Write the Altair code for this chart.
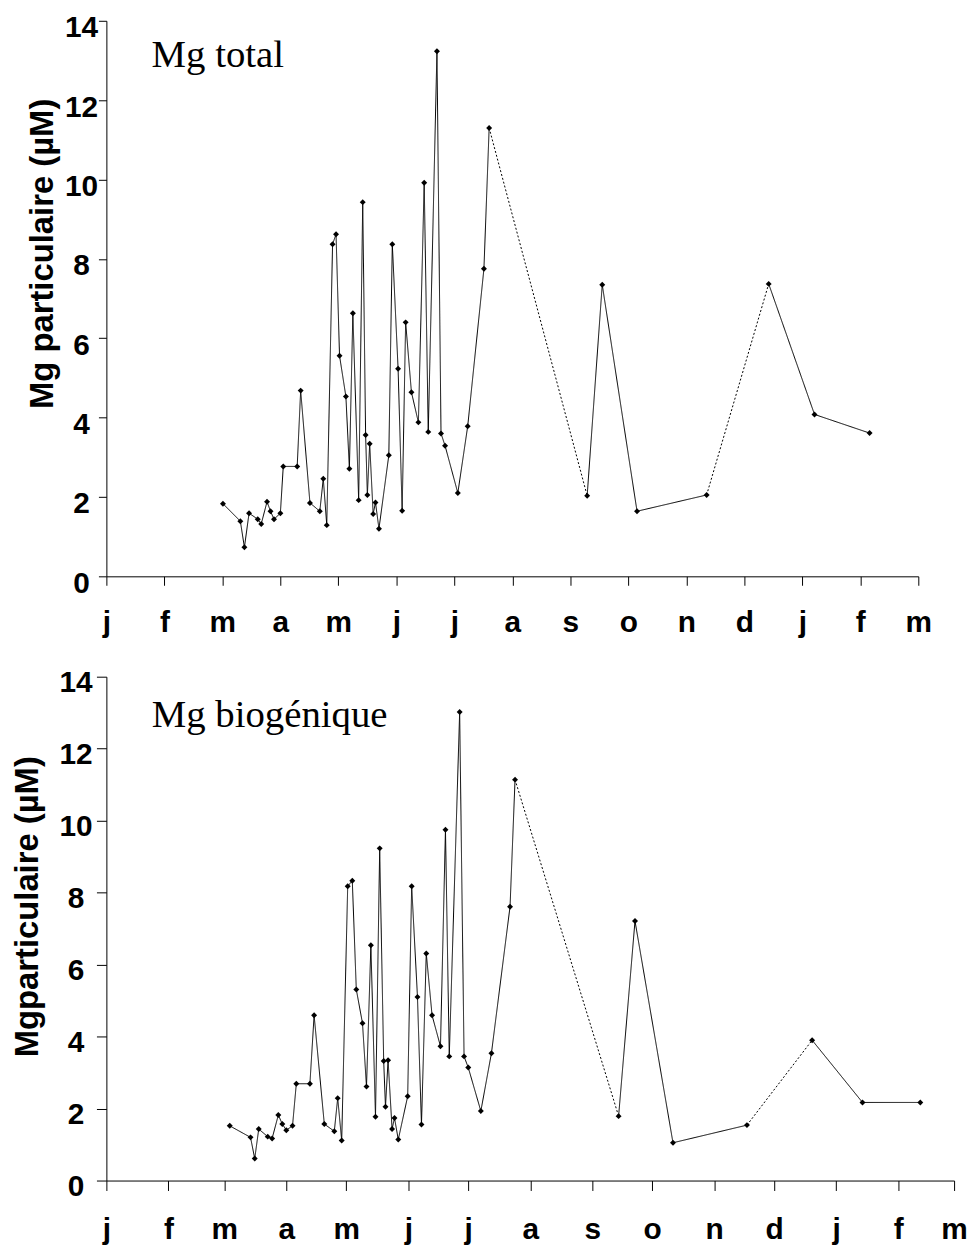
import altair as alt
import pandas as pd

MONTH_LABELS = ["j", "f", "m", "a", "m", "j", "j", "a", "s", "o", "n", "d", "j", "f", "m"]
MONTH_START_DAYS = [0, 31, 59, 90, 120, 151, 181, 212, 243, 273, 304, 334, 365, 396, 424]
Y_TICKS = [0, 2, 4, 6, 8, 10, 12, 14]

# Top panel: x in month units (evenly spaced month axis)
top_x = [2.01, 2.31, 2.38, 2.46, 2.61, 2.67, 2.77, 2.83, 2.89, 3.00, 3.05, 3.29, 3.35,
         3.51, 3.68, 3.74, 3.80, 3.90, 3.96, 4.02, 4.13, 4.19, 4.25, 4.35, 4.42, 4.47,
         4.50, 4.54, 4.60, 4.64, 4.70, 4.87, 4.93, 5.03, 5.10, 5.16, 5.26, 5.38, 5.48,
         5.55, 5.70, 5.77, 5.84, 6.06, 6.23, 6.51, 6.60, 8.29, 8.55, 9.15, 10.35, 11.42,
         12.21, 13.16]
top_y = [1.83, 1.39, 0.73, 1.59, 1.44, 1.32, 1.88, 1.64, 1.44, 1.59, 2.77, 2.77, 4.68,
         1.85, 1.64, 2.46, 1.29, 8.37, 8.62, 5.56, 4.53, 2.71, 6.63, 1.92, 9.43, 3.56,
         2.05, 3.34, 1.57, 1.86, 1.20, 3.05, 8.37, 5.23, 1.65, 6.40, 4.64, 3.88, 9.92,
         3.64, 13.23, 3.60, 3.29, 2.10, 3.78, 7.75, 11.30, 2.03, 7.35, 1.64, 2.05, 7.37,
         4.08, 3.61]

# Bottom panel: x in days since 1 January
bot_x = [61.7, 72.1, 74.2, 76.2, 80.7, 82.9, 86.0, 88.0, 90.0, 93.1, 95.0, 101.8, 103.9,
         109.0, 114.0, 115.7, 117.7, 120.7, 123.0, 125.0, 128.1, 130.1, 132.3, 134.6,
         136.7, 138.7, 139.6, 140.9, 142.9, 144.1, 146.0, 150.7, 152.7, 155.6, 157.6,
         160.0, 162.9, 167.1, 169.6, 171.5, 176.7, 178.9, 181.0, 187.3, 192.6, 201.9,
         204.4, 256.2, 264.4, 283.4, 320.4, 353.0, 378.2, 407.1]
bot_y = [1.52, 1.20, 0.61, 1.43, 1.22, 1.17, 1.82, 1.57, 1.40, 1.52, 2.69, 2.69, 4.59,
         1.57, 1.37, 2.29, 1.11, 8.18, 8.33, 5.31, 4.37, 2.61, 6.54, 1.77, 9.23, 3.32,
         2.05, 3.34, 1.43, 1.74, 1.14, 2.34, 8.18, 5.10, 1.56, 6.31, 4.59, 3.73, 9.75,
         3.45, 13.02, 3.45, 3.14, 1.93, 3.54, 7.61, 11.14, 1.79, 7.21, 1.05, 1.54, 3.90,
         2.17, 2.17]

# gaps drawn dotted: from point i to point i+1
DOTTED_AFTER = [46, 50]

top_label = ["Mg total"]
top_label_x = [0.78]
top_label_y = [12.84]
bot_label = ["Mg biogénique"]
bot_label_x = [22.7]
bot_label_y = [12.60]

FONT = "Liberation Sans"


def segment_table(xs, ys, dotted_after):
    rows = []
    seg = 0
    start = 0
    for b in sorted(dotted_after):
        for i in range(start, b + 1):
            rows.append(dict(x=xs[i], y=ys[i], seg=seg, style="solid"))
        seg += 1
        for i in (b, b + 1):
            rows.append(dict(x=xs[i], y=ys[i], seg=seg, style="dotted"))
        seg += 1
        start = b + 1
    for i in range(start, len(xs)):
        rows.append(dict(x=xs[i], y=ys[i], seg=seg, style="solid"))
    return pd.DataFrame(rows)


def panel(xs, ys, x_scale, x_axis, y_axis, lab, lab_x, lab_y, w, h):
    seg_df = segment_table(xs, ys, DOTTED_AFTER)
    pts_df = pd.DataFrame({"x": xs, "y": ys})
    txt_df = pd.DataFrame({"x": lab_x, "y": lab_y, "t": lab})
    y_enc = alt.Y("y:Q", scale=alt.Scale(domain=[0, 14], nice=False), axis=y_axis)
    x_enc = alt.X("x:Q", scale=x_scale, axis=x_axis)
    lines = alt.Chart(seg_df).mark_line(color="black", strokeWidth=1).encode(
        x=x_enc, y=y_enc, detail="seg:N",
        strokeDash=alt.StrokeDash("style:N", scale=alt.Scale(domain=["solid", "dotted"],
                                                             range=[[1, 0], [2, 2]]),
                                  legend=None),
    )
    pts = alt.Chart(pts_df).mark_point(shape="diamond", filled=True, size=36,
                                       color="black", opacity=1).encode(x="x:Q", y="y:Q")
    txt = alt.Chart(txt_df).mark_text(font="Liberation Serif", fontSize=39, align="left",
                                      baseline="alphabetic", color="black").encode(
        x="x:Q", y="y:Q", text="t:N")
    return alt.layer(lines, pts, txt).properties(width=w, height=h)


def y_axis(title, pad, tick, tx, ty, off):
    return alt.Axis(values=Y_TICKS, grid=False, tickSize=tick, labelPadding=pad,
                    labelAlign="center", labelBaseline="middle", labelOffset=off,
                    labelFont=FONT, labelFontWeight="bold", labelFontSize=30,
                    labelColor="black", labelFlush=False, labelOverlap=False,
                    domainColor="black", tickColor="black",
                    title=title, titleFont=FONT, titleFontWeight="bold", titleFontSize=33,
                    titleColor="black", titleAngle=270, titleAlign="center",
                    titleBaseline="alphabetic", titleX=tx, titleY=ty)


top_labels_expr = "[" + ",".join("'%s'" % m for m in MONTH_LABELS) + "][round(datum.value)]"
bot_labels_expr = ("[" + ",".join("'%s'" % m for m in MONTH_LABELS) + "][indexof(["
                   + ",".join(str(d) for d in MONTH_START_DAYS) + "], datum.value)]")

top_x_axis = alt.Axis(values=list(range(15)), labelExpr=top_labels_expr, title=None, grid=False,
                      tickSize=9, labelPadding=23, labelFont=FONT, labelFontWeight="bold",
                      labelFontSize=30, labelColor="black", labelAngle=0, labelFlush=False,
                      labelOverlap=False, domainColor="black", tickColor="black")
bot_x_axis = alt.Axis(values=MONTH_START_DAYS, labelExpr=bot_labels_expr, title=None, grid=False,
                      tickSize=10, labelPadding=24, labelFont=FONT, labelFontWeight="bold",
                      labelFontSize=30, labelColor="black", labelAngle=0, labelFlush=False,
                      labelOverlap=False, domainColor="black", tickColor="black")

top = panel(top_x, top_y, alt.Scale(domain=[0, 14], nice=False, zero=False), top_x_axis,
            y_axis("Mg particulaire (µM)", 17.5, 8, -54, 234, 7),
            top_label, top_label_x, top_label_y, 817, 559)
bottom = panel(bot_x, bot_y, alt.Scale(domain=[0, 424], nice=False, zero=False), bot_x_axis,
               y_axis("Mgparticulaire (µM)", 21, 10, -69, 231, 6),
               bot_label, bot_label_x, bot_label_y, 853, 507)

chart = alt.vconcat(top, bottom, spacing=30).properties(
    padding={"left": 3, "top": 1, "right": 0, "bottom": 0}, background="white"
).configure_view(stroke=None)

chart.save("out.html", embed_options={"renderer": "svg", "actions": False})
